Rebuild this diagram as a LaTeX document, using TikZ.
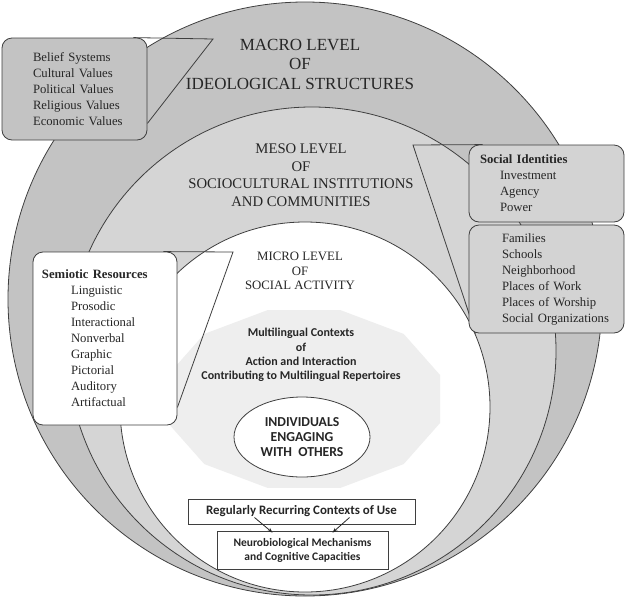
\documentclass[tikz,border=0pt]{standalone}
\usepackage{fontspec}
\setmainfont{Liberation Serif}
\newfontfamily\calfont{Carlito}
\usetikzlibrary{arrows.meta,shapes.geometric,calc}
\pgfdeclarelayer{background}
\pgfsetlayers{background,main}
\definecolor{macrogray}{HTML}{C3C3C3}
\definecolor{mesogray}{HTML}{D5D5D5}
\definecolor{boxgray}{HTML}{D3D3D3}
\definecolor{polygray}{HTML}{EEEEEE}
\definecolor{linecol}{HTML}{3F3F3F}
\definecolor{textcol}{HTML}{262626}
\newcommand{\listfont}{\fontsize{12.7}{16}\selectfont}
\newcommand{\pad}[1]{\hspace*{#1pt}}

\begin{document}
\begin{tikzpicture}[x=1pt,y=-1pt,
  ring/.style={draw=linecol, line width=0.8pt},
  leveltext/.style={align=center, text=textcol, inner sep=0pt},
  listbox/.style={draw=linecol, line width=0.8pt, rounded corners=10pt,
    align=left, inner sep=0pt, text=textcol, font=\listfont},
  pointer/.style={draw=linecol, line width=0.8pt},
  plainbox/.style={draw=linecol, line width=0.8pt, fill=white, inner sep=0pt,
    align=center, text=textcol},
  usearrow/.style={-{Stealth[length=5pt,width=4pt]}, draw=textcol, line width=0.8pt}]
\useasboundingbox (0,0) rectangle (626,600);

% === the three levels ===
\begin{pgfonlayer}{background}
  \draw[ring, fill=macrogray] (305,299) circle[radius=297pt];
  \draw[ring, fill=mesogray] (312,351) circle[radius=244pt];
  \draw[ring, fill=white] (305,407) circle[radius=185pt];
  % multilingual contexts (many-sided polygon)
  \fill[polygray] (304,399) +(15:141 and 92)
    \foreach \k in {1,...,11}{ -- +(15+\k*30:141 and 92)} -- cycle;
\end{pgfonlayer}

\node[leveltext, font=\fontsize{17}{19.5}\selectfont] (macro) at (300,64)
  {MACRO LEVEL\\OF\\IDEOLOGICAL STRUCTURES};
\node[leveltext, font=\fontsize{14.7}{17.5}\selectfont] (meso) at (301,175)
  {MESO LEVEL\\OF\\SOCIOCULTURAL INSTITUTIONS\\AND COMMUNITIES};
\node[leveltext, font=\fontsize{12.8}{14.8}\selectfont] (micro) at (300,271)
  {MICRO LEVEL\\OF\\SOCIAL ACTIVITY};
\node[leveltext, font=\calfont\bfseries\fontsize{12}{14.2}\selectfont] (contexts) at (301,355)
  {Multilingual Contexts\\of\\Action and Interaction\\Contributing to Multilingual Repertoires};

\node[ellipse, plainbox, minimum width=136pt, minimum height=80pt,
  font=\calfont\bfseries\fontsize{13.7}{15}\selectfont] (individuals) at (302,437)
  {INDIVIDUALS\\ENGAGING\\WITH\ \ OTHERS};

% === callout boxes ===
\node[listbox, fill=macrogray, text width=145pt, minimum height=102pt] (beliefs) at (74.5,89)
  {\pad{31}Belief Systems\\\pad{31}Cultural Values\\\pad{31}Political Values\\
   \pad{31}Religious Values\\\pad{31}Economic Values};
\node[listbox, fill=white, text width=144pt, minimum height=173pt] (semiotic) at (105,338.5)
  {\pad{9}\textbf{Semiotic Resources}\\\pad{38}Linguistic\\\pad{38}Prosodic\\
   \pad{38}Interactional\\\pad{38}Nonverbal\\\pad{38}Graphic\\\pad{38}Pictorial\\
   \pad{38}Auditory\\\pad{38}Artifactual};
\node[listbox, fill=boxgray, text width=155pt, minimum height=77pt] (identities) at (546.5,183.5)
  {\pad{11}\textbf{Social Identities}\\\pad{31}Investment\\\pad{31}Agency\\\pad{31}Power};
\node[listbox, fill=boxgray, text width=155pt, minimum height=108pt] (institutions) at (546.5,279)
  {\pad{33}Families\\\pad{33}Schools\\\pad{33}Neighborhood\\\pad{33}Places of Work\\
   \pad{33}Places of Worship\\\pad{33}Social Organizations};

\coordinate (macrotip) at (213,39);
\coordinate (semiotictip) at (233,252);
\coordinate (mesotip) at (413,145);

\begin{pgfonlayer}{background}
  \draw[pointer] ([xshift=-14pt]beliefs.north east) -- (macrotip)
    -- ($(beliefs.south east)+(0,-17)$);
  \draw[pointer] ([xshift=-14pt]semiotic.north east) -- (semiotictip)
    -- ($(semiotic.south east)+(0,-18)$);
  \draw[pointer] ([xshift=14pt]identities.north west) -- (mesotip)
    -- ($(institutions.south west)+(7,0)$);
\end{pgfonlayer}

% === contexts of use ===
\node[plainbox, minimum width=227pt, minimum height=25pt,
  font=\calfont\bfseries\fontsize{12.9}{15}\selectfont] (recurring) at (301.5,511.5)
  {Regularly Recurring Contexts of Use};
\node[plainbox, minimum width=171pt, minimum height=38pt,
  font=\calfont\bfseries\fontsize{11.5}{14}\selectfont] (neuro) at (302.5,550)
  {Neurobiological Mechanisms\\and Cognitive Capacities};

\draw[usearrow] ($(recurring.center)+(-47,6)$) -- ($(neuro.north)+(-30,2)$);
\draw[usearrow] ($(recurring.center)+(48,6)$) -- ($(neuro.north)+(30,2)$);

\end{tikzpicture}
\end{document}
